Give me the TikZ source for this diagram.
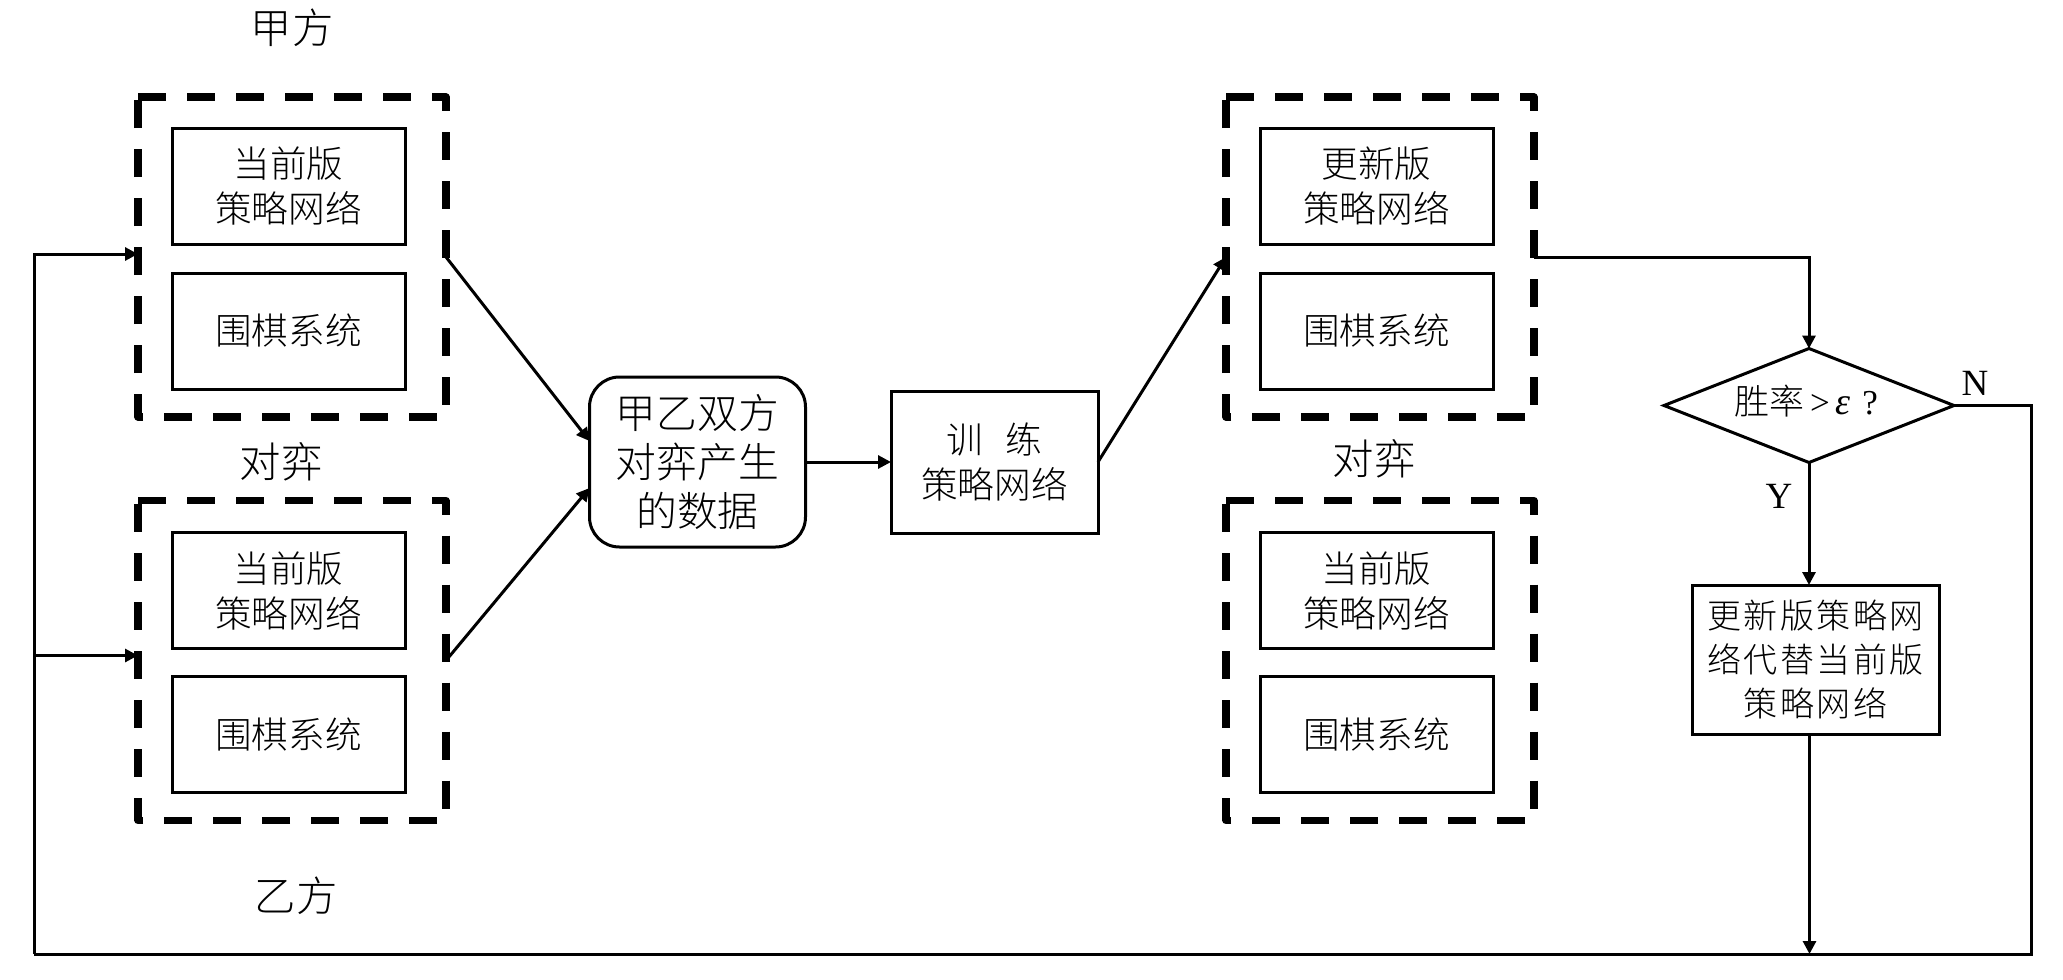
\documentclass[tikz,border=0pt]{standalone}
\usepackage{fontspec}
\usetikzlibrary{arrows.meta,shapes.geometric}
\setmainfont{Noto Sans CJK SC Light}
\newfontfamily\latinfont{Liberation Serif}
\newfontfamily\widecjk[LetterSpace=7]{Noto Sans CJK SC Light}
\tikzset{
  x=0.5pt,y=-0.5pt,
  every node/.style={inner sep=0pt,outer sep=0pt,align=center},
  frameregion/.style={minimum width=154pt,minimum height=160pt},
  framedash/.style={line width=3.6pt,line join=round,dash pattern=on 14pt off 10.5pt},
  innerbox/.style={draw,line width=1.5pt,minimum width=116.5pt,minimum height=58pt,font=\fontsize{18.3}{22.5}\selectfont},
  sidelabel/.style={font=\fontsize{20.7}{24}\selectfont},
  conn/.style={line width=1.5pt,-{Triangle[length=6.5pt,width=6.5pt]}},
  plain/.style={line width=1.5pt},
  letter/.style={font=\fontsize{18.5}{20}\latinfont},
}
\begin{document}
\begin{tikzpicture}
\useasboundingbox (0,0) rectangle (2063,980);
% dashed frames
\node[frameregion] (dashA) at (292,257) {};
\node[frameregion] (dashB) at (292,660.5) {};
\node[frameregion] (dashC) at (1380,257) {};
\node[frameregion] (dashD) at (1380,660.5) {};
\foreach \f in {dashA,dashB,dashC,dashD}
  \draw[framedash] (\f.north west) -- (\f.north east) -- (\f.south east) -- (\f.south west) -- cycle;
% inner boxes
\node[innerbox] (curA) at (288.5,186) {当前版\\策略网络};
\node[innerbox] (goA) at (288.5,331) {围棋系统};
\node[innerbox] (curB) at (288.5,590.5) {当前版\\策略网络};
\node[innerbox] (goB) at (288.5,734.5) {围棋系统};
\node[innerbox] (newC) at (1376.5,186) {更新版\\策略网络};
\node[innerbox] (goC) at (1376.5,331) {围棋系统};
\node[innerbox] (curD) at (1376.5,590.5) {当前版\\策略网络};
\node[innerbox] (goD) at (1376.5,734.5) {围棋系统};
% side labels
\node[sidelabel] (jia) at (292,28) {甲方};
\node[sidelabel] (duiL) at (281,462) {对弈};
\node[sidelabel] (duiR) at (1374,459) {对弈};
\node[sidelabel] (yi) at (296,896) {乙方};
% centre
\node[draw,line width=1.5pt,rounded corners=15pt,minimum width=108pt,minimum height=85pt,font=\fontsize{20.4}{24.5}\selectfont] (data) at (697.5,462) {甲乙双方\\对弈产生\\的数据};
\node[innerbox,minimum width=103.5pt,minimum height=71pt] (train) at (994.5,462) {训\hspace{0.6em}练\\策略网络};
% decision
\node[diamond,draw,line width=1.5pt,minimum width=145pt,minimum height=57pt] (win) at (1809,405.5) {\smash{\makebox[0pt]{\raisebox{-0.45em}{\fontsize{17.5}{20}\selectfont 胜率{\latinfont\,>\,{\fontsize{19}{20}\selectfont\textit{ε}}\,\,?}\hspace{3pt}}}}};
\node[draw,line width=1.5pt,minimum width=123.5pt,minimum height=74.5pt,font=\fontsize{17}{22}\widecjk] (update) at (1815.5,659.5) {更新版策略网\\络代替当前版\\策略网络};
\node[letter] (labN) at (1975,383) {N};
\node[letter] (labY) at (1779,496) {Y};
% turning points
\coordinate (botR) at (2031,954);
\coordinate (botL) at (34,954);
% connectors
\draw[conn] (dashA.east) -- ([yshift=10.5pt]data.west);
\draw[conn] (dashB.east) -- ([yshift=-13pt]data.west);
\draw[conn] (data.east) -- (train.west);
\draw[conn] (train.east) -- (dashC.west);
\draw[conn] (dashC.east) -| (win.north);
\draw[conn] (win.south) -- (win.south |- update.north);
\draw[conn] ([xshift=-3pt]update.south) -- ([xshift=-3pt]update.south |- botR);
\draw[plain,line join=miter] (win.east) -| (botR) -- (botL);
\draw[conn] (botL) |- ([yshift=1.5pt]dashA.west);
\draw[conn] ([yshift=2.5pt]dashB.west -| botL) -- ([yshift=2.5pt]dashB.west);
\end{tikzpicture}
\end{document}
